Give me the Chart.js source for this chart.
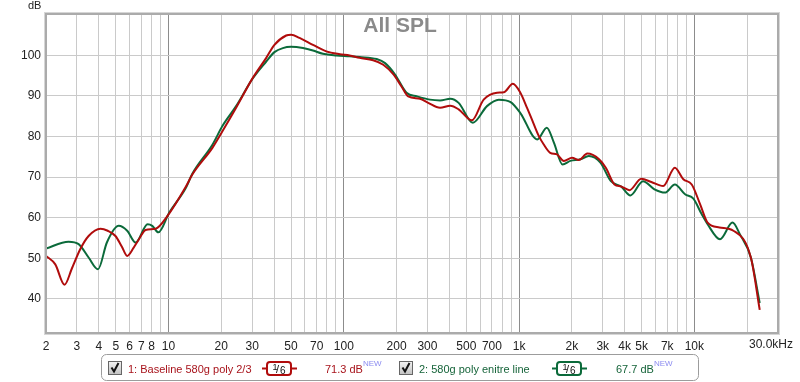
<!DOCTYPE html>
<html>
<head>
<meta charset="utf-8">
<script src="https://cdn.jsdelivr.net/npm/chart.js@4.4.1/dist/chart.umd.min.js"></script>
<style>
  html, body { margin: 0; padding: 0; background: #ffffff; }
  #wrap { width: 800px; height: 382px; position: relative; }
</style>
</head>
<body>
<div id="wrap"><canvas id="c" width="800" height="382"></canvas></div>
<script>
// ---- Data ----
const chartTitle = "All SPL";
const yUnit = "dB";

const baselineFreq = [2, 2.26, 2.55, 2.81, 3.14, 3.5, 4.09, 4.5, 4.98, 5.4, 5.81, 6.3, 6.78, 7.4, 8.45, 9.85,
  12.5, 13.7, 17.8, 20.3, 24.3, 30.2, 36.1, 40.2, 46.9, 50.1, 55.9, 66.7, 79.5, 95, 108, 123, 147, 168, 192,
  213, 233, 272, 303, 354, 405, 452, 538, 628, 749, 818, 921, 1017, 1112, 1164, 1297, 1380, 1505, 1645, 1800,
  2005, 2190, 2450, 2860, 3125, 3500, 3820, 4260, 4980, 5680, 6640, 7740, 8650, 9660, 10790, 11900, 13900,
  16700, 21000, 23600];
const baselineDb = [50.6, 48.5, 43.5, 47.5, 52.3, 55.5, 57.3, 56.8, 55.5, 53.0, 50.6, 52.5, 54.7, 57.0, 57.3, 60.4,
  67.5, 70.7, 77.2, 81.3, 87.1, 94.4, 99.4, 102.6, 104.9, 105.1, 104.3, 102.6, 101.0, 100.3, 100.0, 99.4, 98.8, 97.7, 95.3,
  92.4, 89.9, 89.3, 88.3, 87.1, 87.6, 86.7, 84.0, 89.1, 90.8, 90.9, 93.0, 90.8, 87.0, 85.0, 80.1, 78.1, 76.0, 75.6, 74.0,
  74.8, 74.2, 75.8, 74.4, 72.3, 68.2, 67.7, 66.8, 69.6, 68.8, 67.8, 72.3, 69.5, 68.2, 63.3, 58.8, 57.6,
  56.8, 50.2, 37.3];

const entireFreq = [2, 2.69, 3.07, 3.5, 3.96, 4.45, 5.2, 5.81, 6.49, 7.6, 8.08, 8.74, 10.1, 12.5, 13.7, 17.8,
  20.3, 24.3, 30.2, 36.1, 40.2, 44.9, 50, 58.5, 66.7, 76, 91, 108, 123, 154, 172, 196, 228, 262, 310, 354, 405,
  452, 545, 656, 766, 895, 1017, 1270, 1440, 1580, 1770, 1960, 2240, 2500, 2910, 3340, 3820, 4320, 5090, 5920,
  6800, 7740, 8850, 9870, 11000, 11900, 14000, 16500, 18200, 21000, 23600];
const entireDb = [52.4, 54.1, 53.5, 50.2, 47.3, 53.9, 58.0, 56.8, 53.9, 58.4, 58.0, 56.4, 61.3, 67.2, 70.9, 78.0,
  82.6, 87.5, 94.3, 98.5, 100.8, 101.8, 102.1, 101.8, 101.2, 100.4, 100.0, 99.8, 99.6, 99.1, 98.1, 95.3, 90.8, 89.9, 89.1, 88.9, 89.3,
  88.3, 83.4, 87.5, 89.1, 88.5, 85.8, 79.3, 82.2, 78.5, 73.1, 74.0, 74.4, 75.2, 73.6, 69.0, 67.7, 65.5, 69.0, 67.0,
  66.2, 68.2, 65.8, 64.7, 60.9, 58.4, 54.7, 58.8, 55.9, 50.2, 39.0];

const xTickValues = [2,3,4,5,6,7,8,9,10,20,30,40,50,60,70,80,90,100,200,300,400,500,600,700,800,900,
  1000,2000,3000,4000,5000,6000,7000,8000,9000,10000,20000,30000];
const xTickLabels = {2:"2",3:"3",4:"4",5:"5",6:"6",7:"7",8:"8",10:"10",20:"20",30:"30",50:"50",70:"70",
  100:"100",200:"200",300:"300",500:"500",700:"700",1000:"1k",2000:"2k",3000:"3k",4000:"4k",5000:"5k",
  7000:"7k",10000:"10k"};
const xEndLabel = "30.0kHz";
const yTickValues = [40, 50, 60, 70, 80, 90, 100];

const seriesNames = ["1: Baseline 580g poly 2/3", "2: 580g poly enitre line"];
const seriesLevels = ["71.3 dB", "67.7 dB"];
const smoothingLabel = ["1", "6"];
const newTag = "NEW";

// ---- Styles ----
const RED = "#b00c0c";
const GREEN = "#0b6a3a";
const FONT = "'Liberation Sans', Arial, sans-serif";

const framePlugin = {
  id: "frame",
  beforeDatasetsDraw(chart) {
    const { ctx, chartArea: a } = chart;
    ctx.save();
    ctx.font = "bold 21px " + FONT;
    ctx.fillStyle = "#8a8a8a";
    ctx.textAlign = "center";
    ctx.textBaseline = "middle";
    ctx.fillText(chartTitle, (a.left + a.right) / 2 - 12, 26);
    ctx.restore();
  },
  afterDraw(chart) {
    const { ctx, chartArea: a } = chart;
    ctx.save();
    // plot frame
    ctx.strokeStyle = "#d6d6d6";
    ctx.lineWidth = 1;
    ctx.strokeRect(a.left - 1.5, a.top - 1.5, a.right - a.left + 3, a.bottom - a.top + 3);
    ctx.strokeStyle = "#ababab";
    ctx.lineWidth = 2;
    ctx.strokeRect(a.left, a.top, a.right - a.left, a.bottom - a.top);

    // unit label
    ctx.font = "11px " + FONT;
    ctx.fillStyle = "#222";
    ctx.textAlign = "left";
    ctx.textBaseline = "alphabetic";
    ctx.fillText(yUnit, 28, 9);

    // last x label
    const xs = chart.scales.x;
    ctx.font = "12px " + FONT;
    ctx.textAlign = "center";
    ctx.textBaseline = "top";
    ctx.fillStyle = "#222";
    ctx.fillText(xEndLabel, xs.getPixelForValue(30000) - 7, a.bottom + 6);

    // legend box
    ctx.beginPath();
    ctx.roundRect(101.5, 354.5, 597, 26, 5);
    ctx.fillStyle = "#ffffff";
    ctx.fill();
    ctx.strokeStyle = "#9c9c9c";
    ctx.lineWidth = 1;
    ctx.stroke();

    const items = [
      { cb: 108, text: 128, icon: 262, level: 325, color: RED, textColor: "#a8141c" },
      { cb: 399, text: 419, icon: 552, level: 616, color: GREEN, textColor: "#16643a" }
    ];
    items.forEach((it, i) => {
      // checkbox
      const g = ctx.createLinearGradient(0, 361, 0, 374);
      g.addColorStop(0, "#f4f4f4");
      g.addColorStop(1, "#c4c4c4");
      ctx.fillStyle = g;
      ctx.fillRect(it.cb + 0.5, 361.5, 13, 13);
      ctx.strokeStyle = "#666";
      ctx.lineWidth = 1;
      ctx.strokeRect(it.cb + 0.5, 361.5, 13, 13);
      ctx.beginPath();
      ctx.moveTo(it.cb + 3.5, 367.5);
      ctx.lineTo(it.cb + 6, 371.5);
      ctx.lineTo(it.cb + 10.5, 363);
      ctx.strokeStyle = "#111";
      ctx.lineWidth = 2;
      ctx.stroke();

      // name
      ctx.font = "11px " + FONT;
      ctx.textAlign = "left";
      ctx.textBaseline = "alphabetic";
      ctx.fillStyle = it.textColor;
      ctx.fillText(seriesNames[i], it.text, 372.5);

      // smoothing icon
      ctx.beginPath();
      ctx.moveTo(it.icon, 368.5);
      ctx.lineTo(it.icon + 35, 368.5);
      ctx.strokeStyle = it.color;
      ctx.lineWidth = 2;
      ctx.stroke();
      ctx.beginPath();
      ctx.roundRect(it.icon + 5, 362, 24, 13, 3);
      ctx.fillStyle = "#fff";
      ctx.fill();
      ctx.lineWidth = 2;
      ctx.strokeStyle = it.color;
      ctx.stroke();
      ctx.fillStyle = "#111";
      ctx.font = "9px " + FONT;
      ctx.fillText(smoothingLabel[0], it.icon + 10.5, 370);
      ctx.font = "11px " + FONT;
      ctx.fillText("/", it.icon + 14, 373);
      ctx.font = "10px " + FONT;
      ctx.fillText(smoothingLabel[1], it.icon + 18, 373.5);

      // level
      ctx.font = "11px " + FONT;
      ctx.fillStyle = it.textColor;
      ctx.fillText(seriesLevels[i], it.level, 372.5);
      const w = ctx.measureText(seriesLevels[i]).width;
      ctx.font = "8px " + FONT;
      ctx.fillStyle = "#8c8cf0";
      ctx.fillText(newTag, it.level + w, 366);
    });
    ctx.restore();
  }
};

const majors = [10, 100, 1000, 10000];

new Chart(document.getElementById("c"), {
  type: "line",
  data: {
    datasets: [
      {
        label: seriesNames[0],
        data: baselineFreq.map((f, i) => ({ x: f, y: baselineDb[i] })),
        borderColor: RED,
        borderWidth: 2,
        pointRadius: 0,
        cubicInterpolationMode: "monotone",
        fill: false
      },
      {
        label: seriesNames[1],
        data: entireFreq.map((f, i) => ({ x: f, y: entireDb[i] })),
        borderColor: GREEN,
        borderWidth: 2,
        pointRadius: 0,
        cubicInterpolationMode: "monotone",
        fill: false
      }
    ]
  },
  options: {
    responsive: false,
    animation: false,
    events: [],
    layout: { padding: { top: 14, right: 22, left: 0, bottom: 0 } },
    plugins: { legend: { display: false }, tooltip: { enabled: false }, title: { display: false } },
    scales: {
      x: {
        type: "logarithmic",
        min: 2,
        max: 30000,
        afterBuildTicks: (s) => { s.ticks = xTickValues.map(v => ({ value: v })); },
        afterFit: (s) => { s.height = 49; },
        border: { display: false },
        grid: {
          drawTicks: false,
          color: (c) => (c.tick && majors.includes(c.tick.value)) ? "#8c8c8c" : "#cacaca",
          lineWidth: 1
        },
        ticks: {
          autoSkip: false,
          maxRotation: 0,
          minRotation: 0,
          padding: 6,
          color: "#222",
          font: { family: FONT, size: 12 },
          callback: (v) => xTickLabels[v] || ""
        }
      },
      y: {
        min: 31.6,
        max: 110.2,
        afterBuildTicks: (s) => { s.ticks = yTickValues.map(v => ({ value: v })); },
        afterFit: (s) => { s.width = 46; },
        border: { display: false },
        grid: { drawTicks: false, color: "#cacaca", lineWidth: 1 },
        ticks: {
          padding: 5,
          color: "#222",
          font: { family: FONT, size: 12 },
          callback: (v) => String(v)
        }
      }
    }
  },
  plugins: [framePlugin]
});
</script>
</body>
</html>
